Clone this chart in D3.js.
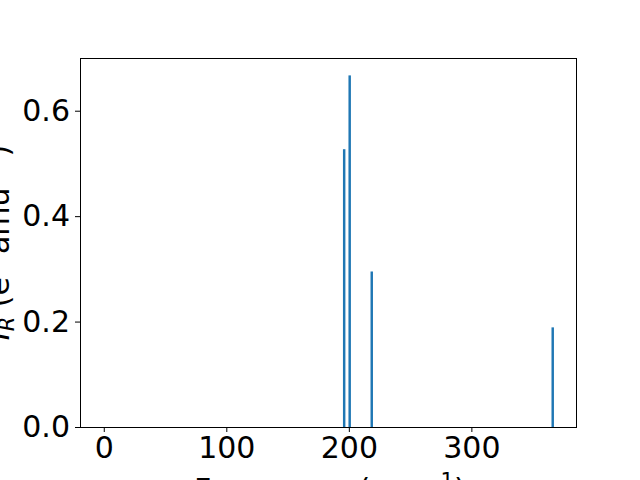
<!DOCTYPE html>
<html><head><meta charset="utf-8">
<script src="https://cdn.jsdelivr.net/npm/d3@7"></script>
<style>body{margin:0;background:#fff}</style>
</head><body>
<svg id="c" width="640" height="480"></svg>
<script>
const frequencies = [0, 196.2, 200.7, 218.7, 366.4];
const intensities = [0, 0.527, 0.667, 0.295, 0.189];
const xTicks = [0, 100, 200, 300];
const yTicks = [0.0, 0.2, 0.4, 0.6];
const barWidth = 2;

const svg = d3.select("#c");
const L = 80, R = 576, T = 58, B = 427;
const x = d3.scaleLinear().domain([-19.4, 385.4]).range([L, R]);
const y = d3.scaleLinear().domain([0, 0.7]).range([B, T]);
const font = "DejaVu Sans";
const fs = 30;

svg.append("rect").attr("width", 640).attr("height", 480).attr("fill", "#fff");

svg.append("g").selectAll("rect").data(frequencies.map((f, i) => ({f, v: intensities[i]})))
  .join("rect")
  .attr("x", d => x(d.f - barWidth / 2))
  .attr("width", d => x(d.f + barWidth / 2) - x(d.f - barWidth / 2))
  .attr("y", d => y(d.v))
  .attr("height", d => y(0) - y(d.v))
  .attr("fill", "#1f77b4");

const xAxis = svg.append("g").attr("transform", `translate(0,${B})`)
  .call(d3.axisBottom(x).tickValues(xTicks).tickSize(5).tickPadding(5).tickFormat(d3.format("d")));
const yAxis = svg.append("g").attr("transform", `translate(${L},0)`)
  .call(d3.axisLeft(y).tickValues(yTicks).tickSize(5).tickPadding(5).tickFormat(d3.format(".1f")));
[xAxis, yAxis].forEach(a => {
  a.select(".domain").remove();
  a.selectAll("text").attr("font-family", font).attr("font-size", fs).attr("fill", "#000");
  a.selectAll("line").attr("stroke", "#000").attr("stroke-width", 1);
});

svg.append("rect").attr("x", L).attr("y", T).attr("width", R - L).attr("height", B - T)
  .attr("fill", "none").attr("stroke", "#000").attr("stroke-width", 1).attr("shape-rendering", "crispEdges");

// x label
const xl = svg.append("text").attr("x", 194).attr("y", 500).attr("text-anchor", "start")
  .attr("font-family", font).attr("font-size", fs).attr("fill", "#000");
xl.append("tspan").text("Frequency (cm");
xl.append("tspan").attr("font-size", fs * 0.7).attr("dx", 7).attr("dy", -12).text("−1");
xl.append("tspan").attr("dy", 12).text(")");

// y label
const yl = svg.append("text").attr("transform", `translate(9,${(T + B) / 2}) rotate(-90)`)
  .attr("text-anchor", "middle").attr("font-family", font).attr("font-size", fs).attr("fill", "#000");
yl.append("tspan").attr("font-style", "italic").text("I");
yl.append("tspan").attr("font-style", "italic").attr("font-size", fs * 0.7).attr("dy", 5).text("R");
yl.append("tspan").attr("dy", -5).text(" (e");
yl.append("tspan").attr("font-size", fs * 0.7).attr("dy", -12).text("2");
yl.append("tspan").attr("dy", 12).text(" amu");
yl.append("tspan").attr("font-size", fs * 0.7).attr("dy", -12).text("−1");
yl.append("tspan").attr("dy", 12).text(")");
</script>
</body></html>
